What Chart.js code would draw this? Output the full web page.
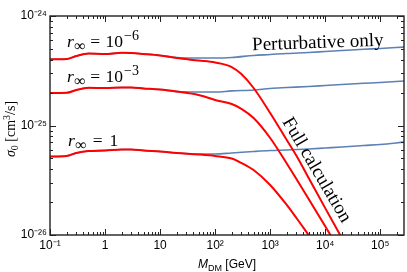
<!DOCTYPE html>
<html><head><meta charset="utf-8">
<script src="https://cdn.jsdelivr.net/npm/chart.js@4.4.1/dist/chart.umd.min.js"></script>
<style>html,body{margin:0;padding:0;background:#fff;}canvas{display:block;}</style>
</head><body>
<canvas id="c" width="407" height="272"></canvas>
<script>
// ---- data ----
const redMass  = [0.1,0.2,0.3,0.5,1,2,3,5,10,20,50,100,200,300,500,1000,2000,3000,5000,10000,20000,30000];
const fullR6   = [4.02e-25,4.05e-25,4.31e-25,4.55e-25,4.50e-25,4.61e-25,4.59e-25,4.50e-25,4.36e-25,4.13e-25,3.92e-25,3.76e-25,3.42e-25,2.95e-25,2.20e-25,1.30e-25,7.37e-26,5.29e-26,3.32e-26,1.76e-26,9.4e-27,6.49e-27];
const fullR3   = [1.98e-25,1.99e-25,2.11e-25,2.21e-25,2.20e-25,2.22e-25,2.22e-25,2.18e-25,2.13e-25,2.04e-25,1.90e-25,1.71e-25,1.57e-25,1.42e-25,1.17e-25,7.69e-26,4.50e-26,3.25e-26,2.13e-26,1.20e-26,6.71e-27,4.79e-27];
const fullR0   = [5.21e-26,5.27e-26,5.61e-26,5.85e-26,5.91e-26,6.04e-26,6.04e-26,5.91e-26,5.79e-26,5.61e-26,5.44e-26,5.27e-26,5.00e-26,4.55e-26,3.92e-26,2.86e-26,1.88e-26,1.43e-26,1.00e-26,6.17e-27,3.72e-27,2.77e-27];

const pertMass = [0.1,0.2,0.3,0.5,1,2,3,5,10,20,50,100,200,500,1000,2000,5000,10000,20000,50000,100000,270000];
const pertR6   = [4.02e-25,4.05e-25,4.31e-25,4.55e-25,4.50e-25,4.61e-25,4.59e-25,4.50e-25,4.36e-25,4.18e-25,4.13e-25,4.13e-25,4.18e-25,4.36e-25,4.45e-25,4.55e-25,4.64e-25,4.74e-25,4.84e-25,4.97e-25,5.05e-25,5.20e-25];
const pertR3   = [1.98e-25,1.99e-25,2.11e-25,2.21e-25,2.20e-25,2.22e-25,2.22e-25,2.18e-25,2.13e-25,2.04e-25,2.02e-25,2.02e-25,2.07e-25,2.11e-25,2.18e-25,2.22e-25,2.27e-25,2.32e-25,2.37e-25,2.43e-25,2.47e-25,2.55e-25];
const pertR0   = [5.21e-26,5.27e-26,5.61e-26,5.85e-26,5.91e-26,6.04e-26,6.04e-26,5.91e-26,5.79e-26,5.61e-26,5.49e-26,5.49e-26,5.61e-26,5.79e-26,5.91e-26,5.98e-26,6.10e-26,6.23e-26,6.36e-26,6.57e-26,6.71e-26,7.05e-26];

const xTickValues = [0.1,1,10,100,1000,10000,100000];
const xTickLabels = ['10\u207B\u00B9','1','10','10\u00B2','10\u00B3','10\u2074','10\u2075'];
const yTickValues = [1e-26,1e-25,1e-24];
const yTickLabels = ['10\u207B\u00B2\u2076','10\u207B\u00B2\u2075','10\u207B\u00B2\u2074'];

const RED = '#ff0000', BLUE = '#5e81b5';
const SANS = '"Liberation Sans", Arial, sans-serif';
const SERIF = '"Liberation Serif", "Times New Roman", serif';

function pts(xs, ys){ return xs.map((x,i)=>({x:x, y:ys[i]})); }
function redSet(d){ return {data: pts(redMass,d), borderColor: RED, borderWidth: 2, pointRadius: 0, fill:false}; }
function blueSet(d){ return {data: pts(pertMass,d), borderColor: BLUE, borderWidth: 1.6, pointRadius: 0, fill:false}; }

function drawRuns(ctx, runs, x, y, align){
  let total = 0;
  const w = runs.map(r=>{ ctx.font = r.f; const m = ctx.measureText(r.t).width; total += m + (r.gap||0); return m; });
  let cx = align === 'center' ? x - total/2 : x;
  runs.forEach((r,i)=>{ cx += (r.gap||0); ctx.font = r.f; ctx.fillText(r.t, cx, y + (r.dy||0)); cx += w[i]; });
}

const framePlugin = {
  id: 'frame',
  afterDatasetsDraw(chart){
    const ctx = chart.ctx, a = chart.chartArea, xs = chart.scales.x, ys = chart.scales.y;
    ctx.save();
    ctx.strokeStyle = '#222';
    ctx.lineWidth = 1;
    ctx.beginPath();
    for (let e = -1; e <= 5; e++) for (let m = 1; m <= 9; m++) {
      const v = m * Math.pow(10, e);
      if (v < xs.min || v > xs.max * 1.0001) continue;
      const px = Math.round(xs.getPixelForValue(v)) + 0.5, L = m === 1 ? 6 : 3;
      ctx.moveTo(px, a.bottom); ctx.lineTo(px, a.bottom - L);
      ctx.moveTo(px, a.top); ctx.lineTo(px, a.top + L);
    }
    for (let e = -26; e <= -24; e++) for (let m = 1; m <= 9; m++) {
      const v = m * Math.pow(10, e);
      if (v < ys.min * 0.9999 || v > ys.max * 1.0001) continue;
      const py = Math.round(ys.getPixelForValue(v)) + 0.5, L = m === 1 ? 6 : 3;
      ctx.moveTo(a.left, py); ctx.lineTo(a.left + L, py);
      ctx.moveTo(a.right, py); ctx.lineTo(a.right - L, py);
    }
    ctx.stroke();
    ctx.lineWidth = 1.4;
    ctx.strokeRect(a.left, a.top, a.right - a.left, a.bottom - a.top);
    ctx.restore();
  },
  afterDraw(chart){
    const ctx = chart.ctx, a = chart.chartArea;
    ctx.save();
    ctx.fillStyle = '#000';
    ctx.textAlign = 'left';
    ctx.textBaseline = 'alphabetic';
    // x axis title
    drawRuns(ctx, [
      {t:'M', f:'italic 12px ' + SANS},
      {t:'DM', f:'9px ' + SANS, dy:2.5},
      {t:' [GeV]', f:'12px ' + SANS}
    ], (a.left + a.right)/2, 268, 'center');
    // y axis title
    ctx.save();
    ctx.translate(15, 129);
    ctx.rotate(-Math.PI/2);
    drawRuns(ctx, [
      {t:'\u03C3', f:'italic 14px ' + SERIF},
      {t:'0', f:'10px ' + SERIF, dy:3},
      {t:' [cm', f:'14px ' + SERIF},
      {t:'3', f:'10px ' + SERIF, dy:-5},
      {t:'/s]', f:'14px ' + SERIF}
    ], 0, 0, 'center');
    ctx.restore();
    // r_inf labels
    const rLabel = (x, y, main, exp, g) => {
      const runs = [
        {t:'r', f:'italic 17.5px ' + SERIF},
        {t:'\u221E', f:'16px ' + SERIF, dy:4, gap:0.5},
        {t:'=', f:'17.5px ' + SERIF, gap:g},
        {t:main, f:'17.5px ' + SERIF, gap:g + 1}
      ];
      if (exp) runs.push({t:exp, f:'14px ' + SERIF, dy:-7, gap:1});
      drawRuns(ctx, runs, x, y, 'left');
    };
    rLabel(67, 47, '10', '\u22126', 4.5);
    rLabel(67, 82, '10', '\u22123', 4.5);
    rLabel(68, 146, '1', null, 6);
    // Perturbative only
    ctx.save();
    ctx.translate(318, 48);
    ctx.rotate(-2 * Math.PI/180);
    ctx.textAlign = 'center';
    ctx.font = '19px ' + SERIF;
    ctx.fillText('Perturbative only', 0, 0);
    ctx.restore();
    // Full calculation
    ctx.save();
    ctx.translate(316.5, 170);
    ctx.rotate(59.5 * Math.PI/180);
    ctx.textAlign = 'center';
    ctx.textBaseline = 'middle';
    ctx.font = '19px ' + SERIF;
    ctx.fillText('Full calculation', 0, 0);
    ctx.restore();
    ctx.restore();
  }
};

new Chart(document.getElementById('c'), {
  type: 'line',
  data: { datasets: [
    redSet(fullR6), redSet(fullR3), redSet(fullR0),
    blueSet(pertR6), blueSet(pertR3), blueSet(pertR0)
  ]},
  options: {
    responsive: false, animation: false, devicePixelRatio: 1,
    layout: { padding: { top: 16, right: 3, left: 0, bottom: 0 } },
    plugins: { legend: {display:false}, tooltip: {enabled:false} },
    elements: { point: {radius:0}, line: { cubicInterpolationMode: 'monotone' } },
    scales: {
      x: {
        type: 'logarithmic', min: 0.1, max: 2.7e5,
        grid: {display:false, drawTicks:false}, border: {display:false},
        afterBuildTicks: s => { s.ticks = xTickValues.map(v => ({value: v})); },
        afterFit: s => { s.height = 37; },
        ticks: { autoSkip:false, maxRotation:0, padding:3, color:'#000',
          font: {family: SANS, size: 12}, callback: (v, i) => xTickLabels[i] }
      },
      y: {
        type: 'logarithmic', min: 1e-26, max: 1e-24,
        grid: {display:false, drawTicks:false}, border: {display:false},
        afterBuildTicks: s => { s.ticks = yTickValues.map(v => ({value: v})); },
        afterFit: s => { s.width = 50; },
        ticks: { autoSkip:false, padding:3, color:'#000',
          font: {family: SANS, size: 12}, callback: (v, i) => yTickLabels[i] }
      }
    }
  },
  plugins: [framePlugin]
});
</script>
</body></html>
